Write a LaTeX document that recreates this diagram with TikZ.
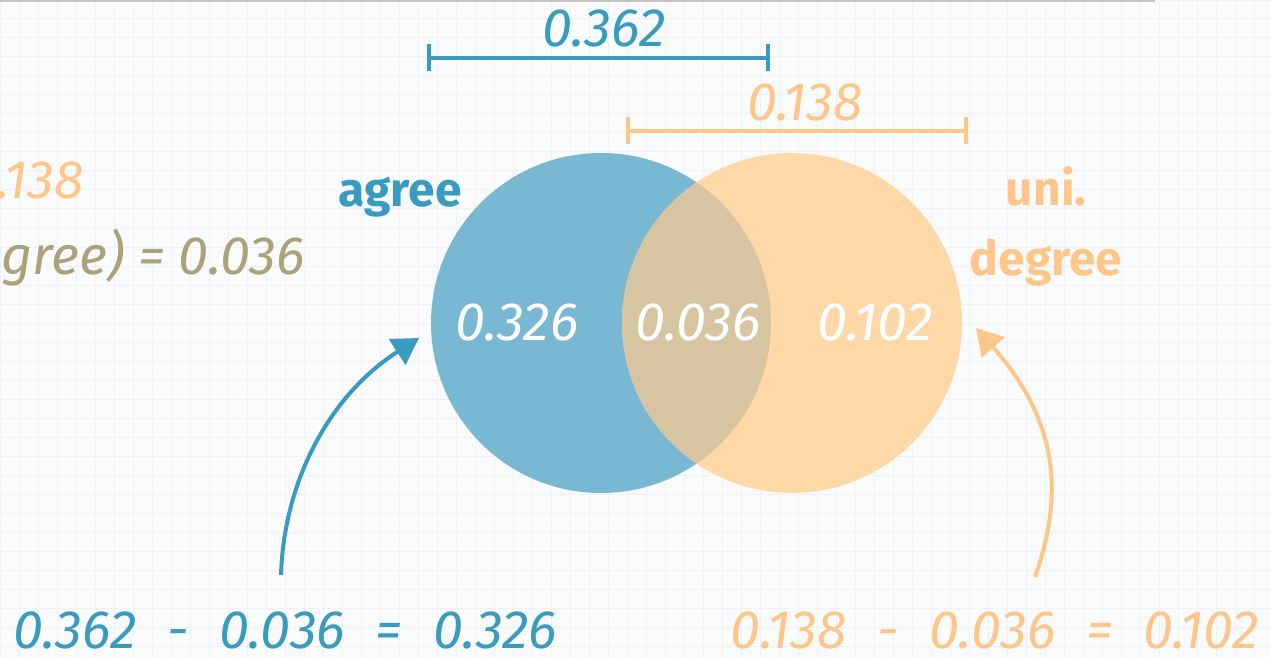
\documentclass[tikz,border=0pt]{standalone}
\usepackage{fontspec}
\setmainfont{Fira Sans}
\newfontfamily\handfont{Fira Sans}
\usepackage{xcolor}
\definecolor{PaperWhite}{HTML}{FAFBFC}
\definecolor{GridGrey}{HTML}{EFF2F5}
\definecolor{RuleTop}{HTML}{C4C4C4}
\definecolor{VennBlue}{HTML}{78B8D3}
\definecolor{VennOrange}{HTML}{FFD8A8}
\definecolor{VennMix}{HTML}{D7C4A0}
\definecolor{LabelBlue}{HTML}{3A9BC1}
\definecolor{LabelOrange}{HTML}{FFC68A}
\definecolor{OliveText}{HTML}{AAA278}
\usepackage{tikz}
\usetikzlibrary{arrows.meta}
\tikzset{
  handtight/.style={font={\handfont\itshape\fontsize{27}{30}\selectfont},inner sep=0pt},
  hand/.style={font={\handfont\itshape\fontsize{27}{30}\selectfont\spaceskip=0.57em\relax},inner sep=0pt},
  setlabel/.style={font=\bfseries\fontsize{24}{35}\selectfont,align=center,inner sep=0pt},
  lenbar/.style={line width=2pt,{Bar[width=13.5pt]}-{Bar[width=13.5pt]}},
  curlarrow/.style={line width=2pt,-{Triangle[length=13pt,width=15pt]}},
  vennset/.style={circle,minimum size=170pt,inner sep=0pt}
}

\begin{document}
\begin{tikzpicture}[x=0.5pt,y=-0.5pt]
  \useasboundingbox (0,0) rectangle (1270,658);
  \clip (0,0) rectangle (1270,658);
  % paper
  \fill[PaperWhite] (0,0) rectangle (1270,658);
  \draw[GridGrey,line width=0.5pt,step=9.5pt] (0,0) grid (1270,658);
  \draw[RuleTop,line width=1pt] (0,1) -- (1155,1);

  % the two sets
  \node[vennset,fill=VennBlue] (agree) at (601,323) {};
  \node[vennset,fill=VennOrange] (degree) at (792,323) {};
  \begin{scope}
    \clip (agree.center) circle (85pt);
    \fill[VennMix] (degree.center) circle (85pt);
  \end{scope}

  \node[hand,white] (onlyAgree) at (517,322) {0.326};
  \node[hand,white] (both) at (698,322) {0.036};
  \node[hand,white] (onlyDegree) at (875,322) {0.102};

  \node[setlabel,LabelBlue] (agreeLabel) at (400,197) {agree};
  \node[setlabel,LabelOrange] (degreeLabel) at (1046,226) {uni.\\degree};

  % length bars
  \coordinate (agreeBarL) at (427,58);
  \coordinate (agreeBarR) at (770,58);
  \draw[lenbar,LabelBlue] (agreeBarL) -- (agreeBarR);
  \node[hand,LabelBlue] (agreeLen) at (604,28) {0.362};

  \coordinate (degreeBarL) at (626,131);
  \coordinate (degreeBarR) at (968,131);
  \draw[lenbar,LabelOrange] (degreeBarL) -- (degreeBarR);
  \node[hand,LabelOrange] (degreeLen) at (805,102) {0.138};

  % cut off at the left edge
  \node[handtight,LabelOrange,anchor=east] (cutProb) at (84,180) {0.138};
  \node[handtight,OliveText,anchor=east] (cutCond) at (305,258) {gree) = 0.036};

  % sums
  \node[hand,LabelBlue] (agreeCalc) at (285,630) {0.362 - 0.036 = 0.326};
  \node[hand,LabelOrange] (degreeCalc) at (995,630) {0.138 - 0.036 = 0.102};

  \coordinate (agreeTail) at (281,575);
  \coordinate (agreeTip) at (419,338);
  \draw[curlarrow,LabelBlue] (agreeTail) .. controls (284,480) and (330,395) .. (agreeTip);
  \coordinate (degreeTail) at (1035,577);
  \coordinate (degreeTip) at (976,328);
  \draw[curlarrow,LabelOrange] (degreeTail) .. controls (1062,500) and (1062,425) .. (degreeTip);
\end{tikzpicture}
\end{document}
